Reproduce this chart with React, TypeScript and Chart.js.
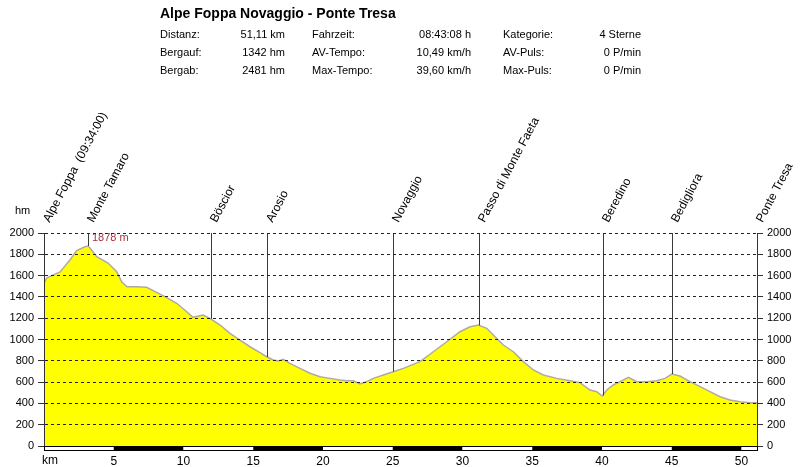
import { useEffect, useRef } from 'react';
import { Chart, registerables } from 'chart.js';

Chart.register(...registerables);

const FONT = '"Liberation Sans", Arial, Helvetica, sans-serif';

// Tour summary shown above the profile
const routeTitle = 'Alpe Foppa Novaggio - Ponte Tresa';
const statLabels = [
  ['Distanz:', 'Bergauf:', 'Bergab:'],
  ['Fahrzeit:', 'AV-Tempo:', 'Max-Tempo:'],
  ['Kategorie:', 'AV-Puls:', 'Max-Puls:'],
];
const statValues = [
  ['51,11 km', '1342 hm', '2481 hm'],
  ['08:43:08 h', '10,49 km/h', '39,60 km/h'],
  ['4 Sterne', '0 P/min', '0 P/min'],
];

// Elevation profile (km along route, metres above sea level)
const distanceKm = [
  0.0, 0.19, 1.15, 1.86, 2.34, 2.94, 3.15, 3.3, 3.78, 4.59, 5.21, 5.57, 5.95, 6.65, 7.36, 7.96,
  8.67, 9.51, 10.23, 10.68, 11.4, 11.9, 12.62, 13.33, 14.05, 14.77, 15.48, 15.96, 16.44, 16.8,
  17.15, 17.63, 18.35, 19.07, 19.78, 20.5, 21.22, 21.7, 22.17, 22.65, 23.13, 23.61, 24.32, 25.04,
  25.76, 26.95, 27.91, 28.87, 29.82, 30.54, 31.13, 31.74, 32.33, 32.93, 33.64, 34.36, 35.08,
  35.79, 36.75, 37.71, 38.42, 39.14, 39.62, 40.02, 40.34, 40.81, 41.29, 41.89, 42.49, 43.21,
  43.92, 44.52, 45.0, 45.59, 46.31, 47.03, 47.74, 48.46, 49.18, 49.89, 50.61, 51.11,
];
const elevationM = [
  1530, 1577, 1634, 1746, 1834, 1871, 1878, 1859, 1777, 1718, 1637, 1543, 1496, 1496, 1490, 1449,
  1402, 1340, 1261, 1208, 1230, 1199, 1136, 1058, 995, 932, 876, 838, 808, 798,
  814, 776, 729, 683, 651, 635, 620, 613, 613, 582, 604, 635, 667, 698,
  729, 792, 885, 979, 1073, 1120, 1136, 1105, 1026, 948, 885, 792, 714,
  667, 635, 613, 595, 526, 510, 469, 526, 573, 604, 645, 604, 604,
  613, 635, 676, 657, 604, 557, 510, 463, 432, 416, 407, 405,
];

// Waypoints along the route
const waypointNames = [
  'Alpe Foppa  (09:34:00)',
  'Monte Tamaro',
  'Böscior',
  'Arosio',
  'Novaggio',
  'Passo di Monte Faeta',
  'Beredino',
  'Bedigliora',
  'Ponte Tresa',
];
const waypointKm = [0, 3.15, 11.95, 16.0, 25.05, 31.2, 40.05, 45.0, 51.11];

const elevationTicks = [0, 200, 400, 600, 800, 1000, 1200, 1400, 1600, 1800, 2000];
const distanceTicks = [0, 5, 10, 15, 20, 25, 30, 35, 40, 45, 50];
const totalKm = 51.11;

function elevationAt(km: number): number {
  for (let i = 1; i < distanceKm.length; i++) {
    if (km <= distanceKm[i]) {
      const a = distanceKm[i - 1];
      const b = distanceKm[i];
      const t = b === a ? 0 : (km - a) / (b - a);
      return elevationM[i - 1] + t * (elevationM[i] - elevationM[i - 1]);
    }
  }
  return elevationM[elevationM.length - 1];
}

const profileDecor = {
  id: 'profileDecor',
  beforeDraw(chart: any) {
    const ctx = chart.ctx;
    ctx.save();
    ctx.fillStyle = '#ffffff';
    ctx.fillRect(0, 0, chart.width, chart.height);

    ctx.fillStyle = '#000000';
    ctx.textBaseline = 'middle';
    ctx.textAlign = 'left';
    ctx.font = `bold 14px ${FONT}`;
    ctx.fillText(routeTitle, 160, 14);

    ctx.font = `11px ${FONT}`;
    const labelX = [160, 312, 503];
    const valueRight = [285, 471, 641];
    const rowY = [35, 53, 71];
    for (let c = 0; c < 3; c++) {
      for (let r = 0; r < 3; r++) {
        ctx.textAlign = 'left';
        ctx.fillText(statLabels[c][r], labelX[c], rowY[r]);
        ctx.textAlign = 'right';
        ctx.fillText(statValues[c][r], valueRight[c], rowY[r]);
      }
    }
    ctx.textAlign = 'left';
    ctx.fillText('hm', 15, 211);
    ctx.restore();
  },
  afterDatasetsDraw(chart: any) {
    const ctx = chart.ctx;
    const xs = chart.scales.x;
    const ys = chart.scales.y;
    const top = chart.chartArea.top;
    ctx.save();

    // waypoint markers and rotated names
    ctx.strokeStyle = '#3a3a3a';
    ctx.lineWidth = 1;
    waypointKm.forEach((km, i) => {
      const px = Math.round(xs.getPixelForValue(km)) + 0.5;
      const py = ys.getPixelForValue(elevationAt(km));
      ctx.beginPath();
      ctx.moveTo(px, top);
      ctx.lineTo(px, py);
      ctx.stroke();

      ctx.save();
      ctx.translate(px + 5, top - 10);
      ctx.rotate((-62 * Math.PI) / 180);
      ctx.fillStyle = '#000000';
      ctx.font = `12px ${FONT}`;
      ctx.textAlign = 'left';
      ctx.textBaseline = 'alphabetic';
      ctx.fillText(waypointNames[i], 0, 0);
      ctx.restore();
    });

    // highest point label
    let peak = 0;
    elevationM.forEach((v, i) => {
      if (v > elevationM[peak]) peak = i;
    });
    const peakX = xs.getPixelForValue(distanceKm[peak]);
    ctx.fillStyle = '#a83240';
    ctx.font = `11px ${FONT}`;
    ctx.textAlign = 'left';
    ctx.textBaseline = 'alphabetic';
    ctx.fillText(`${elevationM[peak]} m`, peakX + 4, top + 8);
    ctx.restore();
  },
  afterDraw(chart: any) {
    const ctx = chart.ctx;
    const xs = chart.scales.x;
    const area = chart.chartArea;
    const y0 = area.bottom;
    ctx.save();
    // alternating 5 km distance bar
    for (let s = 0; s < totalKm; s += 5) {
      const x0 = xs.getPixelForValue(s);
      const x1 = xs.getPixelForValue(Math.min(s + 5, totalKm));
      const dark = (s / 5) % 2 === 1;
      ctx.fillStyle = dark ? '#000000' : '#ffffff';
      ctx.fillRect(x0, y0, x1 - x0, 4);
    }
    ctx.strokeStyle = '#000000';
    ctx.lineWidth = 1;
    ctx.strokeRect(area.left + 0.5, y0 + 0.5, area.right - area.left, 4);

    ctx.fillStyle = '#000000';
    ctx.font = `12px ${FONT}`;
    ctx.textAlign = 'left';
    ctx.textBaseline = 'middle';
    ctx.fillText('km', area.left - 2, 461);
    ctx.restore();
  },
};

export default function App() {
  const canvasRef = useRef<HTMLCanvasElement | null>(null);

  useEffect(() => {
    const canvas = canvasRef.current;
    if (!canvas) return;

    const gridCommon = {
      color: '#222222',
      lineWidth: 1,
      tickLength: 6,
      tickColor: '#333333',
      tickBorderDash: [],
      z: 1,
    };

    const chart = new Chart(canvas, {
      type: 'line',
      data: {
        datasets: [
          {
            label: 'Höhe',
            data: distanceKm.map((km, i) => ({ x: km, y: elevationM[i] })),
            borderColor: '#b0aaa0',
            borderWidth: 1.5,
            backgroundColor: '#ffff00',
            fill: 'origin',
            pointRadius: 0,
            tension: 0,
          },
        ],
      },
      plugins: [profileDecor],
      options: {
        animation: false,
        responsive: false,
        events: [],
        layout: { padding: { top: 233, left: 0, right: 0, bottom: 0 } },
        plugins: {
          legend: { display: false },
          tooltip: { enabled: false },
          title: { display: false },
        },
        scales: {
          x: {
            type: 'linear',
            min: 0,
            max: totalKm,
            grid: { display: false, drawTicks: false, tickLength: 0 },
            border: { display: false },
            afterBuildTicks: (scale: any) => {
              scale.ticks = distanceTicks.map((v) => ({ value: v }));
            },
            afterFit: (scale: any) => {
              scale.height = 21;
            },
            ticks: {
              autoSkip: false,
              maxRotation: 0,
              padding: 8,
              color: '#000000',
              font: { family: FONT, size: 12 },
              callback: (v: any) => (v === 0 ? '' : String(v)),
            },
          },
          y: {
            type: 'linear',
            position: 'left',
            min: 0,
            max: 2000,
            z: 1,
            afterBuildTicks: (scale: any) => {
              scale.ticks = elevationTicks.map((v) => ({ value: v }));
            },
            afterFit: (scale: any) => {
              scale.width = 44;
            },
            grid: { ...gridCommon },
            // dash pattern applies to the horizontal grid lines
            border: { display: true, color: '#333333', width: 1, dash: [3, 3], z: 1 },
            ticks: {
              padding: 4,
              color: '#000000',
              font: { family: FONT, size: 11 },
              callback: (v: any) => String(v),
            },
          },
          y2: {
            type: 'linear',
            position: 'right',
            min: 0,
            max: 2000,
            z: 1,
            afterBuildTicks: (scale: any) => {
              scale.ticks = elevationTicks.map((v) => ({ value: v }));
            },
            afterFit: (scale: any) => {
              scale.width = 43;
            },
            grid: { ...gridCommon, drawOnChartArea: false },
            border: { display: true, color: '#333333', width: 1, z: 1 },
            ticks: {
              padding: 4,
              color: '#000000',
              font: { family: FONT, size: 11 },
              callback: (v: any) => String(v),
            },
          },
        },
      } as any,
    });

    return () => chart.destroy();
  }, []);

  return (
    <div style={{ position: 'fixed', left: 0, top: 0, width: 800, height: 467 }}>
      <canvas ref={canvasRef} width={800} height={467} />
    </div>
  );
}
